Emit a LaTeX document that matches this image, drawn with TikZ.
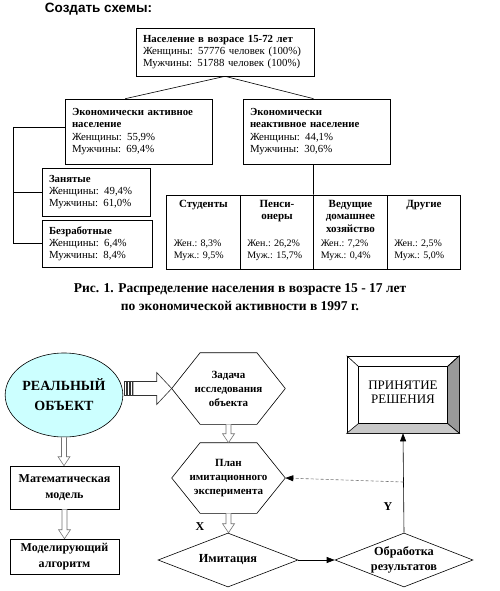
\documentclass[tikz,border=0pt]{standalone}
\usepackage{fontspec}
\setmainfont{Liberation Serif}
\newfontfamily\titlefont{Liberation Sans}
\usetikzlibrary{positioning,calc,shapes.geometric,arrows.meta}

\definecolor{realobj}{HTML}{CCFFFF}
\definecolor{bevelright}{HTML}{999999}
\definecolor{bevelbottom}{HTML}{C8C8C8}

\tikzset{
  box/.style={draw, align=left, inner xsep=7pt, inner ysep=0pt,
    font=\fontsize{10.8}{12.2}\selectfont},
  cell/.style={draw, minimum width=73.5pt, minimum height=74pt, inner sep=0pt},
  head/.style={align=center, inner sep=0pt, font=\fontsize{11}{12.5}\selectfont\bfseries},
  data/.style={align=left, inner sep=0pt, font=\fontsize{10}{12}\selectfont},
  step box/.style={draw, align=center, inner sep=0pt, minimum width=109pt,
    font=\fontsize{12}{16}\selectfont\bfseries},
  hexa/.style={align=center, inner sep=0pt, minimum width=113pt,
    font=\fontsize{11}{14}\selectfont\bfseries},
  rhomb/.style={draw, diamond, aspect=2.6, inner sep=0pt, align=center,
    font=\fontsize{12.3}{15}\selectfont\bfseries},
  hollow/.style={draw=black!55, fill=white, line width=0.6pt},
  flow/.style={-{Triangle[length=8pt,width=6pt,color=black]}, line width=0.6pt},
}

% hollow block arrows between two anchors
\newcommand\hollowdown[2]{%
  \draw[hollow] let \p1=#1, \p2=#2 in
    (\x1-2.5pt,\y1) -- (\x1-2.5pt,\y2+9pt) -- (\x1-6pt,\y2+9pt) -- (\x1,\y2)
    -- (\x1+6pt,\y2+9pt) -- (\x1+2.5pt,\y2+9pt) -- (\x1+2.5pt,\y1);}
\newcommand\hollowright[2]{%
  \draw[hollow, draw=black!80] let \p1=#1, \p2=#2 in
    (\x1+10pt,\y2+7pt) -- (\x2-15pt,\y2+7pt) -- (\x2-15pt,\y2+16pt) -- (\x2,\y2)
    -- (\x2-15pt,\y2-16pt) -- (\x2-15pt,\y2-7pt) -- (\x1+10pt,\y2-7pt) -- cycle;
  \foreach \s in {1,4,7}
    \draw[draw=black!80, line width=0.5pt] let \p1=#1, \p2=#2 in
      (\x1+\s pt,\y2-7pt) rectangle (\x1+\s pt+2pt,\y2+7pt);}
\newcommand\hexframe[1]{%
  \draw (#1.west) -- ($(#1.north west)!0.25!(#1.north east)$)
    -- ($(#1.north west)!0.75!(#1.north east)$) -- (#1.east)
    -- ($(#1.south west)!0.75!(#1.south east)$)
    -- ($(#1.south west)!0.25!(#1.south east)$) -- cycle;}

\begin{document}
\begin{tikzpicture}[x=1pt, y=-1pt, line width=0.6pt]
  \useasboundingbox (0,0) rectangle (499,591);

  \node[font=\titlefont\bfseries\fontsize{13.5}{15}\selectfont] (title) at (98.5,9) {Создать схемы:};

  % upper scheme
  \node[box, text width=164pt, minimum height=48pt] (all) at (225,52)
    {\textbf{Население в возрасе 15-72 лет}\\Женщины: 57776 человек (100\%)\\Мужчины: 51788 человек (100\%)};
  \node[box, text width=133pt, minimum height=65pt] (act) at (138.5,131.5)
    {\textbf{Экономически активное}\\\textbf{население}\\Женщины: 55,9\%\\Мужчины: 69,4\%};
  \node[box, text width=133pt, minimum height=65pt] (inact) at (316.5,131.5)
    {\textbf{Экономически}\\\textbf{неактивное население}\\Женщины: 44,1\%\\Мужчины: 30,6\%};
  \node[box, text width=94pt, minimum height=48pt] (zan) at (96,192)
    {\textbf{Занятые}\\Женщины: 49,4\%\\Мужчины: 61,0\%};
  \node[box, text width=96pt, minimum height=47pt] (bez) at (97,243.5)
    {\textbf{Безработные}\\Женщины: 6,4\%\\Мужчины: 8,4\%};

  \node[cell] (stud) at (203.5,232) {};
  \node[cell] (pens) at (277,232) {};
  \node[cell] (ved) at (350.5,232) {};
  \node[cell] (drug) at (424,232) {};
  \node[head, below=5pt of stud.north] (studh) {Студенты};
  \node[head, below=5pt of pens.north] (pensh) {Пенси-\\онеры};
  \node[head, below=5pt of ved.north] (vedh) {Ведущие\\домашнее\\хозяйство};
  \node[head, below=5pt of drug.north] (drugh) {Другие};
  \node[data, above right=8pt and 7pt of stud.south west] (studd) {Жен.: 8,3\%\\Муж.: 9,5\%};
  \node[data, above right=8pt and 7pt of pens.south west] (pensd) {Жен.: 26,2\%\\Муж.: 15,7\%};
  \node[data, above right=8pt and 7pt of ved.south west] (vedd) {Жен.: 7,2\%\\Муж.: 0,4\%};
  \node[data, above right=8pt and 7pt of drug.south west] (drugd) {Жен.: 2,5\%\\Муж.: 5,0\%};

  \draw (all.south) -- ($(act.north west)!0.41!(act.north east)$);
  \draw (all.south) -- ($(inact.north west)!0.48!(inact.north east)$);
  \draw ($(act.north west)!0.43!(act.south west)$) -- ++(-51,0) coordinate (brk) |- (zan.west);
  \draw (brk) |- (bez.west);
  \draw ($(inact.south west)!0.48!(inact.south east)$) -- (ved.north west);

  \node[align=center, font=\fontsize{13.5}{18}\selectfont\bfseries] (caption) at (240,297)
    {Рис. 1. Распределение населения в возрасте 15 - 17 лет\\по экономической активности в 1997 г.};

  % lower scheme
  \node[draw, ellipse, fill=realobj, minimum width=95pt, minimum height=84pt, inner sep=0pt,
    align=center, font=\fontsize{14}{20}\selectfont\bfseries] (kreis) at (64,395) {РЕАЛЬНЫЙ\\ОБЪЕКТ};
  \node[step box, minimum height=43pt] (mat) at (64.5,487.5) {Математическая\\модель};
  \node[step box, minimum height=35pt] (alg) at (64.5,556.5) {Моделирующий\\алгоритм};
  \node[hexa, minimum height=71pt] (zad) at (228.5,388.5) {Задача\\исследования\\объекта};
  \node[hexa, minimum height=70pt] (plan) at (228.5,478) {План\\имитационного\\эксперимента};
  \hexframe{zad}
  \hexframe{plan}
  \node[rhomb, minimum width=140pt, minimum height=54pt] (imit) at (228,560) {Имитация};
  \node[rhomb, minimum width=138pt, minimum height=54pt] (obr) at (404,560) {Обработка\\результатов};

  % decision box with bevel
  \node[draw, minimum width=112pt, minimum height=77pt, inner sep=0pt] (prin) at (403,394.5) {};
  \coordinate (inw) at ($(prin.north west)+(12,11)$);
  \coordinate (ine) at ($(prin.north east)+(-12,11)$);
  \coordinate (ise) at ($(prin.south east)+(-12,-10)$);
  \coordinate (isw) at ($(prin.south west)+(12,-10)$);
  \filldraw[fill=bevelright] (prin.north east) -- (prin.south east) -- (ise) -- (ine) -- cycle;
  \filldraw[fill=bevelbottom] (prin.south west) -- (prin.south east) -- (ise) -- (isw) -- cycle;
  \draw (prin.north west) -- (inw) (prin.north east) -- (ine);
  \draw[fill=white] (inw) rectangle (ise);
  \node[align=center, font=\fontsize{13}{13.5}\selectfont] (print) at (403,392) {ПРИНЯТИЕ\\РЕШЕНИЯ};

  \hollowright{(kreis.east)}{(zad.west)}
  \hollowdown{(kreis.south)}{(mat.north)}
  \hollowdown{(mat.south)}{(alg.north)}
  \hollowdown{(zad.south)}{(plan.north)}
  \hollowdown{(plan.south)}{(imit.north)}

  \draw[flow] (imit.east) -- (obr.west);
  \draw[flow] (obr.north) -- (prin.south);
  \coordinate (back) at ($(obr.north)!0.51!(prin.south)$);
  \draw[flow, draw=black!55, dash pattern=on 3pt off 2pt] (back) -- (plan.east);

  \node[font=\fontsize{12}{14}\selectfont\bfseries] (xlab) at (200,527) {X};
  \node[font=\fontsize{12}{14}\selectfont\bfseries] (ylab) at (388,507) {Y};
\end{tikzpicture}
\end{document}
